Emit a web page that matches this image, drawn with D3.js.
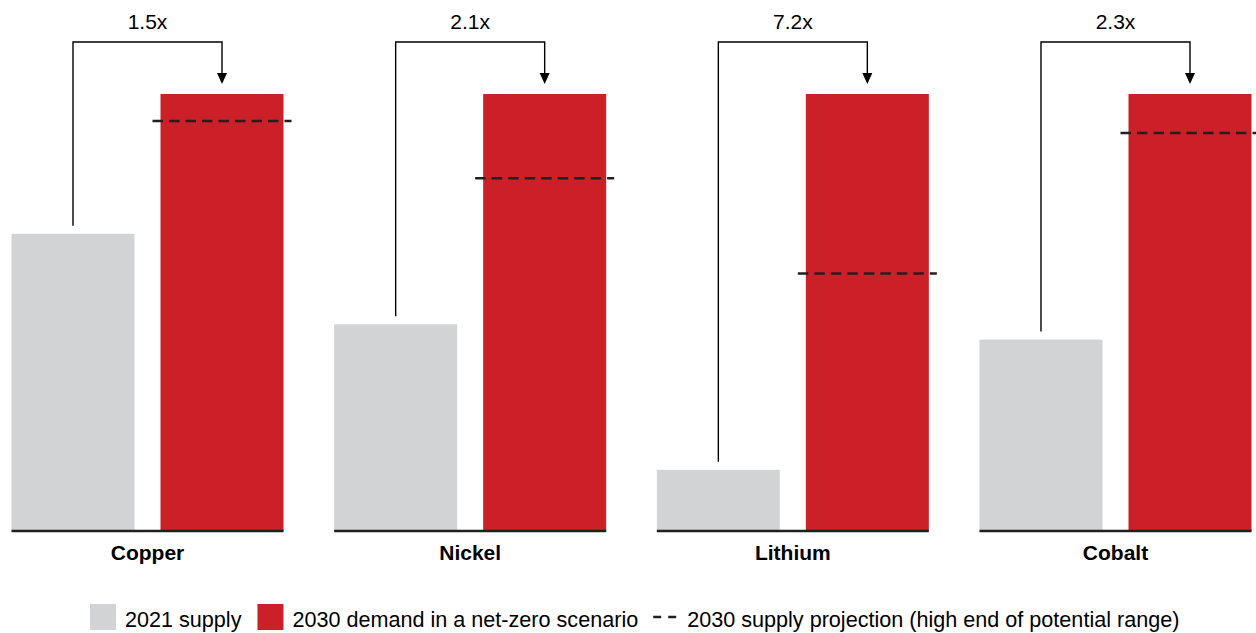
<!DOCTYPE html>
<html>
<head>
<meta charset="utf-8">
<script src="https://cdn.jsdelivr.net/npm/d3@7"></script>
<style>
  html, body { margin: 0; padding: 0; background: #fff; }
  svg { display: block; font-family: "Liberation Sans", Arial, Helvetica, sans-serif; }
</style>
</head>
<body>
<svg id="chart" width="1256" height="633"></svg>
<script>
// Critical minerals: 2021 supply vs 2030 net-zero demand (demand indexed to 100)
const categories = ["Copper", "Nickel", "Lithium", "Cobalt"];
const supply2021 = [68, 47.3, 14, 43.8];
const demand2030 = [100, 100, 100, 100];
const supplyProjection2030 = [93.8, 80.7, 58.9, 91.1];
const multiplierLabels = ["1.5x", "2.1x", "7.2x", "2.3x"];
const seriesNames = ["2021 supply", "2030 demand in a net-zero scenario", "2030 supply projection (high end of potential range)"];

const GRAY = "#d1d3d4", RED = "#cb2027", INK = "#231f20";

const svg = d3.select("#chart");

const data = categories.map((c, i) => ({
  cat: c,
  supply: supply2021[i],
  demand: demand2030[i],
  proj: supplyProjection2030[i],
  label: multiplierLabels[i]
}));

const x = d3.scaleBand().domain(categories).range([11.5, 1251.5]).paddingInner(0.157).paddingOuter(0);
const xi = d3.scaleBand().domain(["supply", "demand"]).range([0, x.bandwidth()]).paddingInner(0.1745).paddingOuter(0);
const y = d3.scaleLinear().domain([0, 100]).range([531, 94]);

const g = svg.selectAll("g.group").data(data).join("g")
  .attr("class", "group")
  .attr("transform", d => `translate(${x(d.cat)},0)`);

// bars
g.append("rect")
  .attr("x", xi("supply")).attr("width", xi.bandwidth())
  .attr("y", d => y(d.supply)).attr("height", d => y(0) - y(d.supply))
  .attr("fill", GRAY);
g.append("rect")
  .attr("x", xi("demand")).attr("width", xi.bandwidth())
  .attr("y", d => y(d.demand)).attr("height", d => y(0) - y(d.demand))
  .attr("fill", RED);

// projection dashed line
g.append("line")
  .attr("x1", xi("demand") - 8).attr("x2", xi("demand") + xi.bandwidth() + 8)
  .attr("y1", d => y(d.proj)).attr("y2", d => y(d.proj))
  .attr("stroke", INK).attr("stroke-width", 2.5)
  .attr("stroke-dasharray", "10.5,6");

// baseline
g.append("line")
  .attr("x1", 0).attr("x2", x.bandwidth())
  .attr("y1", y(0)).attr("y2", y(0))
  .attr("stroke", INK).attr("stroke-width", 2.5);

// category labels
g.append("text")
  .attr("x", x.bandwidth() / 2).attr("y", 560)
  .attr("text-anchor", "middle")
  .attr("font-size", 21).attr("font-weight", "bold").attr("fill", "#000")
  .text(d => d.cat);

// bracket arrows from supply to demand
const topY = 42, arrowTip = 84;
const cxS = xi("supply") + xi.bandwidth() / 2;
const cxD = xi("demand") + xi.bandwidth() / 2;
g.append("path")
  .attr("d", d => `M${cxS},${y(d.supply) - 8} V${topY} H${cxD} V${arrowTip - 9}`)
  .attr("fill", "none").attr("stroke", "#000").attr("stroke-width", 1.4);
g.append("path")
  .attr("d", `M${cxD - 5},${arrowTip - 11} L${cxD + 5},${arrowTip - 11} L${cxD},${arrowTip} Z`)
  .attr("fill", "#000");
g.append("text")
  .attr("x", (cxS + cxD) / 2).attr("y", 29)
  .attr("text-anchor", "middle")
  .attr("font-size", 21).attr("fill", "#000")
  .text(d => d.label);

// legend
const lg = svg.append("g").attr("class", "legend");
const ly = 627, fs = 21.6;
let cx = 90;
lg.append("rect").attr("x", cx).attr("y", 604).attr("width", 26).attr("height", 26).attr("fill", GRAY);
cx += 35;
let t = lg.append("text").attr("x", cx).attr("y", ly).attr("font-size", fs).attr("fill", "#000").text(seriesNames[0]);
cx += t.node().getComputedTextLength() + 16;
lg.append("rect").attr("x", cx).attr("y", 604).attr("width", 26).attr("height", 26).attr("fill", RED);
cx += 35;
t = lg.append("text").attr("x", cx).attr("y", ly).attr("font-size", fs).attr("fill", "#000").text(seriesNames[1]);
cx += t.node().getComputedTextLength() + 15;
lg.append("line").attr("x1", cx).attr("x2", cx + 24).attr("y1", 617).attr("y2", 617)
  .attr("stroke", INK).attr("stroke-width", 2.5).attr("stroke-dasharray", "8,7");
cx += 34;
lg.append("text").attr("x", cx).attr("y", ly).attr("font-size", fs).attr("fill", "#000").text(seriesNames[2]);
</script>
</body>
</html>
